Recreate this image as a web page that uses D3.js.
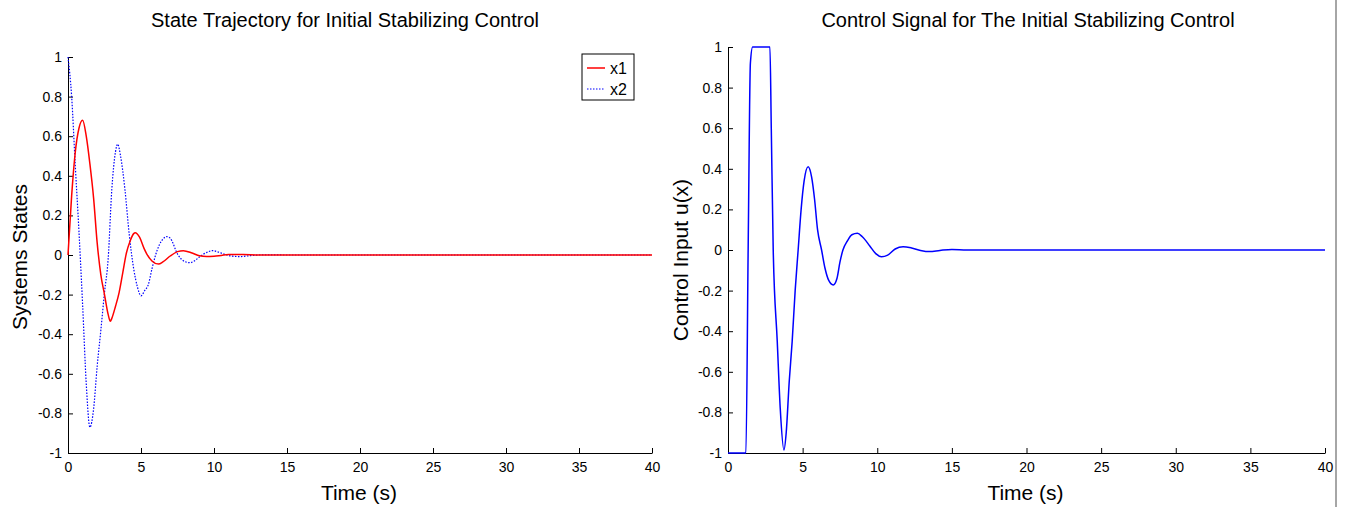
<html>
<head>
<meta charset="utf-8">
<style>
  body { margin: 0; background: #fff; }
  text { font-family: 'Liberation Sans', Arial, sans-serif; fill: #000; }
</style>
</head>
<body>
  <div id='chart'></div>
  <script src='https://cdnjs.cloudflare.com/ajax/libs/d3/7.8.5/d3.min.js'></script>
  <script>
    // left plot: state trajectories
    var stateTime = [0,0.25,0.5,0.75,1.0,1.25,1.5,1.75,2.0,2.25,2.5,2.75,2.9,3.0,3.25,3.5,3.75,4.0,4.25,4.5,4.6,4.9,5.2,5.4,5.75,6.2,6.5,7.0,7.5,7.9,8.5,9.0,9.5,10,10.5,11,12,13,15,20,25,30,35,40];
    var x1 = [0,0.30,0.52,0.64,0.68,0.60,0.46,0.29,0.06,-0.10,-0.20,-0.30,-0.335,-0.32,-0.26,-0.19,-0.09,0.01,0.07,0.108,0.113,0.09,0.035,0.005,-0.03,-0.046,-0.035,-0.005,0.017,0.022,0.01,-0.004,-0.008,-0.006,-0.002,0.002,0.002,0,0,0,0,0,0,0];
    var x2Time = [0,0.25,0.5,0.75,1.0,1.25,1.5,1.75,2.0,2.25,2.5,2.75,3.0,3.25,3.4,3.6,3.9,4.2,4.5,4.75,5.0,5.25,5.5,5.75,6.0,6.25,6.5,6.75,7.0,7.5,7.75,8.0,8.36,8.75,9.0,9.25,9.5,9.9,10.25,10.75,11.25,11.8,12.5,13.5,15,20,25,30,35,40];
    var x2 = [1.0,0.80,0.45,0.12,-0.25,-0.65,-0.87,-0.78,-0.56,-0.38,-0.19,-0.02,0.33,0.52,0.56,0.50,0.33,0.10,-0.07,-0.16,-0.206,-0.18,-0.15,-0.07,0.0,0.05,0.08,0.093,0.085,0.005,-0.02,-0.033,-0.039,-0.025,-0.01,0.003,0.013,0.022,0.016,0.003,-0.006,-0.008,-0.003,0.001,0,0,0,0,0,0];

    // right plot: control signal
    var uTime = [0,1.2,1.35,1.5,1.65,2.81,2.9,3.03,3.3,3.5,3.75,3.9,4.1,4.3,4.5,4.7,4.9,5.1,5.37,5.6,5.8,6.0,6.27,6.5,6.75,7.05,7.3,7.5,7.7,8.0,8.3,8.67,9.0,9.5,9.9,10.28,10.7,11.2,11.73,12.3,12.9,13.5,14.2,15,16,20,25,30,35,40];
    var u = [-1,-1,0,0.92,1,1,0.6,0,-0.45,-0.78,-0.985,-0.9,-0.65,-0.45,-0.2,0,0.2,0.34,0.41,0.36,0.25,0.1,0,-0.09,-0.15,-0.172,-0.14,-0.06,0,0.045,0.075,0.082,0.065,0.02,-0.018,-0.033,-0.025,0.005,0.016,0.01,-0.002,-0.008,-0.002,0.003,0,0,0,0,0,0];

    var xTicks = [0,5,10,15,20,25,30,35,40];
    var yTicks = [-1,-0.8,-0.6,-0.4,-0.2,0,0.2,0.4,0.6,0.8,1];

    var svg = d3.select('#chart').append('svg')
      .attr('width', 1350)
      .attr('height', 507);

    function drawPanel(p) {
      var x = d3.scaleLinear().domain([0, 40]).range([p.left, p.right]);
      var y = d3.scaleLinear().domain([-1, 1]).range([p.bottom, p.top]);

      var xAxis = d3.axisBottom(x).tickValues(xTicks).tickSizeInner(-5).tickSizeOuter(0).tickPadding(9)
        .tickFormat(function(d){ return String(d); });
      var yAxis = d3.axisLeft(y).tickValues(yTicks).tickSizeInner(-5).tickSizeOuter(0).tickPadding(6)
        .tickFormat(function(d){ return String(+d.toFixed(1)); });

      var gx = svg.append('g').attr('transform', 'translate(0,' + p.bottom + ')').call(xAxis);
      var gy = svg.append('g').attr('transform', 'translate(' + p.left + ',0)').call(yAxis);
      [gx, gy].forEach(function(g){
        g.selectAll('path, line').attr('stroke', '#000').attr('stroke-width', 1);
        g.selectAll('text').attr('font-size', 14).attr('font-family', "'Liberation Sans', Arial, sans-serif").attr('fill', '#000');
      });

      svg.append('text')
        .attr('x', p.titleX)
        .attr('y', 27)
        .attr('text-anchor', 'middle')
        .attr('font-size', 20)
        .text(p.title);

      svg.append('text')
        .attr('x', (p.left + p.right) / 2 - 1)
        .attr('y', 500)
        .attr('text-anchor', 'middle')
        .attr('font-size', 21)
        .text('Time (s)');

      svg.append('text')
        .attr('transform', 'translate(' + p.labelX + ',' + p.labelY + ') rotate(-90)')
        .attr('text-anchor', 'middle')
        .attr('font-size', p.labelSize)
        .text(p.ylabel);

      return { x: x, y: y };
    }

    function drawLine(sc, ts, vs, color, dash, width) {
      var line = d3.line()
        .x(function(d){ return sc.x(d[0]); })
        .y(function(d){ return sc.y(d[1]); })
        .curve(d3.curveMonotoneX);
      svg.append('path')
        .datum(d3.zip(ts, vs))
        .attr('d', line)
        .attr('fill', 'none')
        .attr('stroke', color)
        .attr('stroke-width', width)
        .attr('stroke-dasharray', dash);
    }

    var leftPanel = drawPanel({ left: 68, right: 652, top: 57, bottom: 453, titleX: 345,
      title: 'State Trajectory for Initial Stabilizing Control',
      ylabel: 'Systems States', labelX: 27, labelY: 257, labelSize: 21 });
    drawLine(leftPanel, x2Time, x2, '#0000ff', '1.5,1.5', 1.2);
    drawLine(leftPanel, stateTime, x1, '#ff0000', null, 1.5);

    var rightPanel = drawPanel({ left: 728, right: 1325, top: 47, bottom: 453, titleX: 1028,
      title: 'Control Signal for The Initial Stabilizing Control',
      ylabel: 'Control Input u(x)', labelX: 688, labelY: 260, labelSize: 21 });
    drawLine(rightPanel, uTime, u, '#0000ff', null, 1.5);

    // legend
    var legend = svg.append('g').attr('transform', 'translate(582,54)');
    legend.append('rect').attr('width', 52).attr('height', 46)
      .attr('fill', '#fff').attr('stroke', '#000').attr('stroke-width', 1);
    var legendItems = [
      { name: 'x1', color: '#ff0000', dash: null, width: 1.5 },
      { name: 'x2', color: '#0000ff', dash: '1.5,1.5', width: 1.2 }
    ];
    legendItems.forEach(function(d, i){
      var yy = 14 + i * 21;
      legend.append('line').attr('x1', 5).attr('x2', 23).attr('y1', yy).attr('y2', yy)
        .attr('stroke', d.color).attr('stroke-width', d.width).attr('stroke-dasharray', d.dash);
      legend.append('text').attr('x', 28).attr('y', yy + 6).attr('font-size', 16).text(d.name);
    });

    // right figure edge
    svg.append('line').attr('x1', 1336).attr('x2', 1336).attr('y1', 0).attr('y2', 507)
      .attr('stroke', '#888').attr('stroke-width', 1.5);
  </script>
</body>
</html>
